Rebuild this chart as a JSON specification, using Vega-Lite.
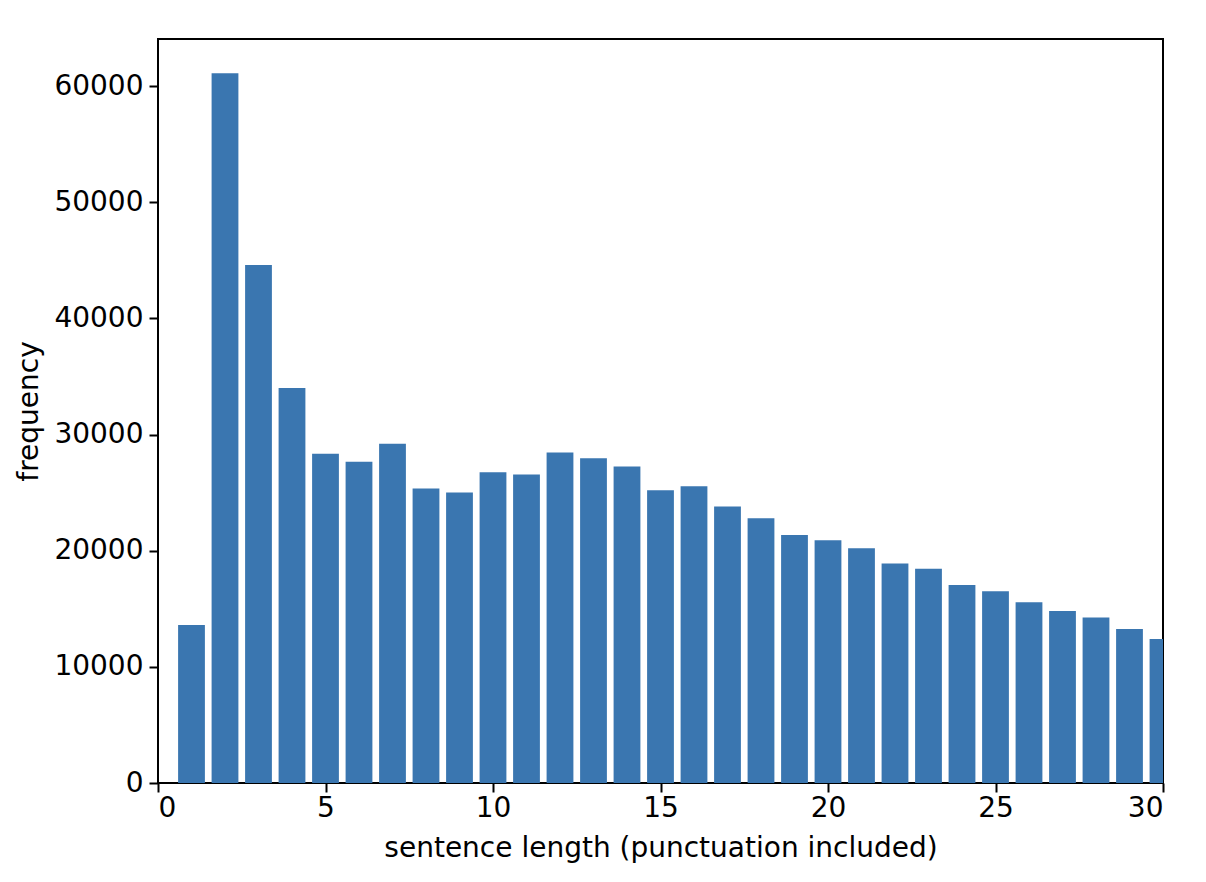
{
  "$schema": "https://vega.github.io/schema/vega-lite/v6.json",
  "autosize": "none",
  "width": 1005,
  "height": 744,
  "padding": {"left": 158, "top": 39, "right": 43, "bottom": 99},
  "background": "white",
  "data": {
    "values": [
      {"length": 1, "frequency": 13600},
      {"length": 2, "frequency": 61100},
      {"length": 3, "frequency": 44600},
      {"length": 4, "frequency": 34000},
      {"length": 5, "frequency": 28350},
      {"length": 6, "frequency": 27650},
      {"length": 7, "frequency": 29200},
      {"length": 8, "frequency": 25350},
      {"length": 9, "frequency": 25000},
      {"length": 10, "frequency": 26750},
      {"length": 11, "frequency": 26550},
      {"length": 12, "frequency": 28450},
      {"length": 13, "frequency": 27950},
      {"length": 14, "frequency": 27250},
      {"length": 15, "frequency": 25200},
      {"length": 16, "frequency": 25550},
      {"length": 17, "frequency": 23800},
      {"length": 18, "frequency": 22800},
      {"length": 19, "frequency": 21350},
      {"length": 20, "frequency": 20900},
      {"length": 21, "frequency": 20200},
      {"length": 22, "frequency": 18900},
      {"length": 23, "frequency": 18450},
      {"length": 24, "frequency": 17050},
      {"length": 25, "frequency": 16500},
      {"length": 26, "frequency": 15550},
      {"length": 27, "frequency": 14800},
      {"length": 28, "frequency": 14250},
      {"length": 29, "frequency": 13250},
      {"length": 30, "frequency": 12400}
    ]
  },
  "mark": {"type": "bar", "size": 26.8, "color": "#3a76b0", "clip": true},
  "encoding": {
    "x": {
      "field": "length",
      "type": "quantitative",
      "scale": {"domain": [0, 30], "nice": false, "zero": false, "padding": 0},
      "axis": {"values": [0, 5, 10, 15, 20, 25, 30], "title": "sentence length (punctuation included)", "grid": false, "tickColor": "black", "tickSize": 9, "tickWidth": 2, "titlePadding": 12}
    },
    "y": {
      "field": "frequency",
      "type": "quantitative",
      "scale": {"domain": [0, 64050], "nice": false},
      "axis": {"values": [0, 10000, 20000, 30000, 40000, 50000, 60000], "title": "frequency", "grid": false, "format": "d", "tickColor": "black", "tickSize": 9, "tickWidth": 2, "labelPadding": 6, "titlePadding": 10}
    }
  },
  "config": {
    "view": {"stroke": "black", "strokeWidth": 2},
    "axis": {
      "domain": false,
      "labelFont": "DejaVu Sans",
      "labelFontSize": 28,
      "labelColor": "black",
      "titleFont": "DejaVu Sans",
      "titleFontSize": 28,
      "titleFontWeight": "normal",
      "titleColor": "black"
    }
  }
}
